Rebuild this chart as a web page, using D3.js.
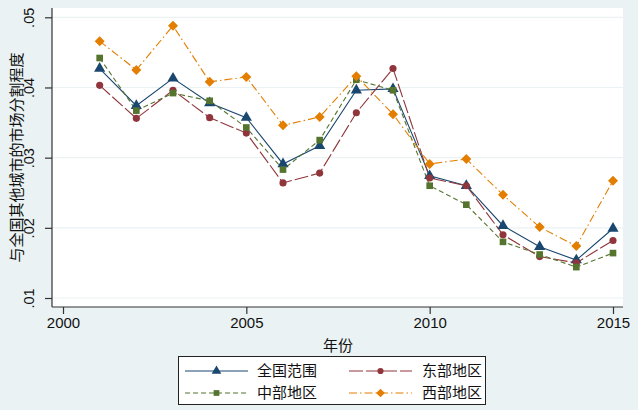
<!DOCTYPE html>
<html>
<head>
<meta charset="utf-8">
<script src="https://cdn.jsdelivr.net/npm/d3@7"></script>
<style>
  body { margin: 0; background: #eaf2f3; }
  svg { display: block; }
  text { font-family: "Liberation Sans", Arial, "Noto Sans CJK SC", sans-serif; fill: #111; }
</style>
</head>
<body>
<svg id="chart"></svg>
<script>
const years = [2001, 2002, 2003, 2004, 2005, 2006, 2007, 2008, 2009, 2010, 2011, 2012, 2013, 2014, 2015];
const national = [.0427, .0374, .0413, .0378, .0357, .0291, .0317, .0396, .0398, .0274, .0260, .0203, .0173, .0154, .0199];
const east     = [.0403, .0356, .0396, .0357, .0335, .0264, .0278, .0364, .0427, .0271, .0260, .0190, .0159, .0150, .0182];
const central  = [.0442, .0367, .0392, .0381, .0343, .0283, .0325, .0411, .0396, .0260, .0233, .0180, .0162, .0144, .0164];
const west     = [.0466, .0425, .0488, .0408, .0415, .0346, .0358, .0416, .0362, .0291, .0298, .0247, .0201, .0174, .0267];
const yTicks = [.01, .02, .03, .04, .05];
const xTicks = [2000, 2005, 2010, 2015];
const seriesNames = ["全国范围", "东部地区", "中部地区", "西部地区"];

// diamond = square turned 45 degrees
const symbolRhomb = {
  draw(ctx, size) {
    const r = Math.sqrt(size / 2);
    ctx.moveTo(0, -r); ctx.lineTo(r, 0); ctx.lineTo(0, r); ctx.lineTo(-r, 0); ctx.closePath();
  }
};

const series = [
  { name: seriesNames[0], values: national, color: "#1a476f", dash: null,        symbol: d3.symbolTriangle, size: 54 },
  { name: seriesNames[1], values: east,     color: "#90353b", dash: "14,3",      symbol: d3.symbolCircle,   size: 40 },
  { name: seriesNames[2], values: central,  color: "#55752f", dash: "5,3",       symbol: d3.symbolSquare,   size: 44 },
  { name: seriesNames[3], values: west,     color: "#e37e00", dash: "8,3,1.5,3", symbol: symbolRhomb,       size: 50 }
];

const width = 638, height = 410;
const svg = d3.select("#chart").attr("width", width).attr("height", height);

// plot region
const plot = { left: 52, right: 623, top: 8, bottom: 307 };
svg.append("rect")
  .attr("x", plot.left).attr("y", plot.top)
  .attr("width", plot.right - plot.left).attr("height", plot.bottom - plot.top)
  .attr("fill", "#fff");

const x = d3.scaleLinear().domain([2000, 2015]).range([63, 613]);
const y = d3.scaleLinear().domain([.01, .05]).range([298, 17.3]);

// gridlines
svg.append("g").selectAll("line").data(yTicks).join("line")
  .attr("x1", plot.left).attr("x2", plot.right)
  .attr("y1", d => y(d)).attr("y2", d => y(d))
  .attr("stroke", "#eaf2f3").attr("stroke-width", 1.2);

// axes
const fmt = d => d3.format(".2f")(d).replace(/^0/, "");
const yAxis = svg.append("g").attr("transform", `translate(${plot.left},0)`)
  .call(d3.axisLeft(y).tickValues(yTicks).tickSize(7).tickFormat(fmt));
yAxis.select(".domain").attr("d", `M0,${plot.top}V${plot.bottom}`);
yAxis.selectAll(".tick text")
  .attr("transform", "rotate(-90)")
  .attr("x", 0).attr("y", -18).attr("dy", 0)
  .attr("text-anchor", "middle")
  .style("font-size", "14.5px");

const xAxis = svg.append("g").attr("transform", `translate(0,${plot.bottom})`)
  .call(d3.axisBottom(x).tickValues(xTicks).tickSize(7).tickFormat(d3.format("d")));
xAxis.select(".domain").attr("d", `M${plot.left},0H${plot.right}`);
xAxis.selectAll(".tick text").attr("y", 10).attr("dy", "0.71em").style("font-size", "15px");

svg.selectAll(".domain, .tick line").attr("stroke", "#333").attr("stroke-width", 1.2);

// titles
svg.append("text")
  .attr("transform", `translate(17,${(plot.top + plot.bottom) / 2}) rotate(-90)`)
  .attr("text-anchor", "middle").attr("dy", "0.35em")
  .style("font-family", "'Noto Sans CJK SC', sans-serif")
  .style("font-size", "15px")
  .text("与全国其他城市的市场分割程度");

svg.append("text")
  .attr("x", (plot.left + plot.right) / 2 + 0.5).attr("y", 351)
  .attr("text-anchor", "middle")
  .style("font-family", "'Noto Sans CJK SC', sans-serif")
  .style("font-size", "15px")
  .text("年份");

// lines + markers
const line = d3.line().x((d, i) => x(years[i])).y(d => y(d));
series.forEach(s => {
  svg.append("path")
    .attr("d", line(s.values))
    .attr("fill", "none")
    .attr("stroke", s.color)
    .attr("stroke-width", 1.1)
    .attr("stroke-dasharray", s.dash);
});
series.forEach(s => {
  svg.append("g").selectAll("path").data(s.values).join("path")
    .attr("transform", (d, i) => `translate(${x(years[i])},${y(d)})`)
    .attr("d", d3.symbol().type(s.symbol).size(s.size))
    .attr("fill", s.color);
});

// legend
const legend = svg.append("g");
legend.append("rect")
  .attr("x", 178.5).attr("y", 356.5).attr("width", 307).attr("height", 48)
  .attr("fill", "#fff").attr("stroke", "#222").attr("stroke-width", 1);

const legendPos = [
  { kx: 185, ky: 371, tx: 257 },
  { kx: 349, ky: 371, tx: 422 },
  { kx: 185, ky: 393, tx: 257 },
  { kx: 349, ky: 393, tx: 422 }
];
series.forEach((s, i) => {
  const p = legendPos[i];
  legend.append("line")
    .attr("x1", p.kx).attr("x2", p.kx + 63).attr("y1", p.ky).attr("y2", p.ky)
    .attr("stroke", s.color).attr("stroke-width", 1.1)
    .attr("stroke-dasharray", s.dash);
  legend.append("path")
    .attr("transform", `translate(${p.kx + 31.5},${p.ky})`)
    .attr("d", d3.symbol().type(s.symbol).size(s.size * 0.75))
    .attr("fill", s.color);
  legend.append("text")
    .attr("x", p.tx).attr("y", p.ky).attr("dy", "0.36em")
    .style("font-family", "'Noto Sans CJK SC', sans-serif")
    .style("font-size", "15px")
    .text(s.name);
});
</script>
</body>
</html>
